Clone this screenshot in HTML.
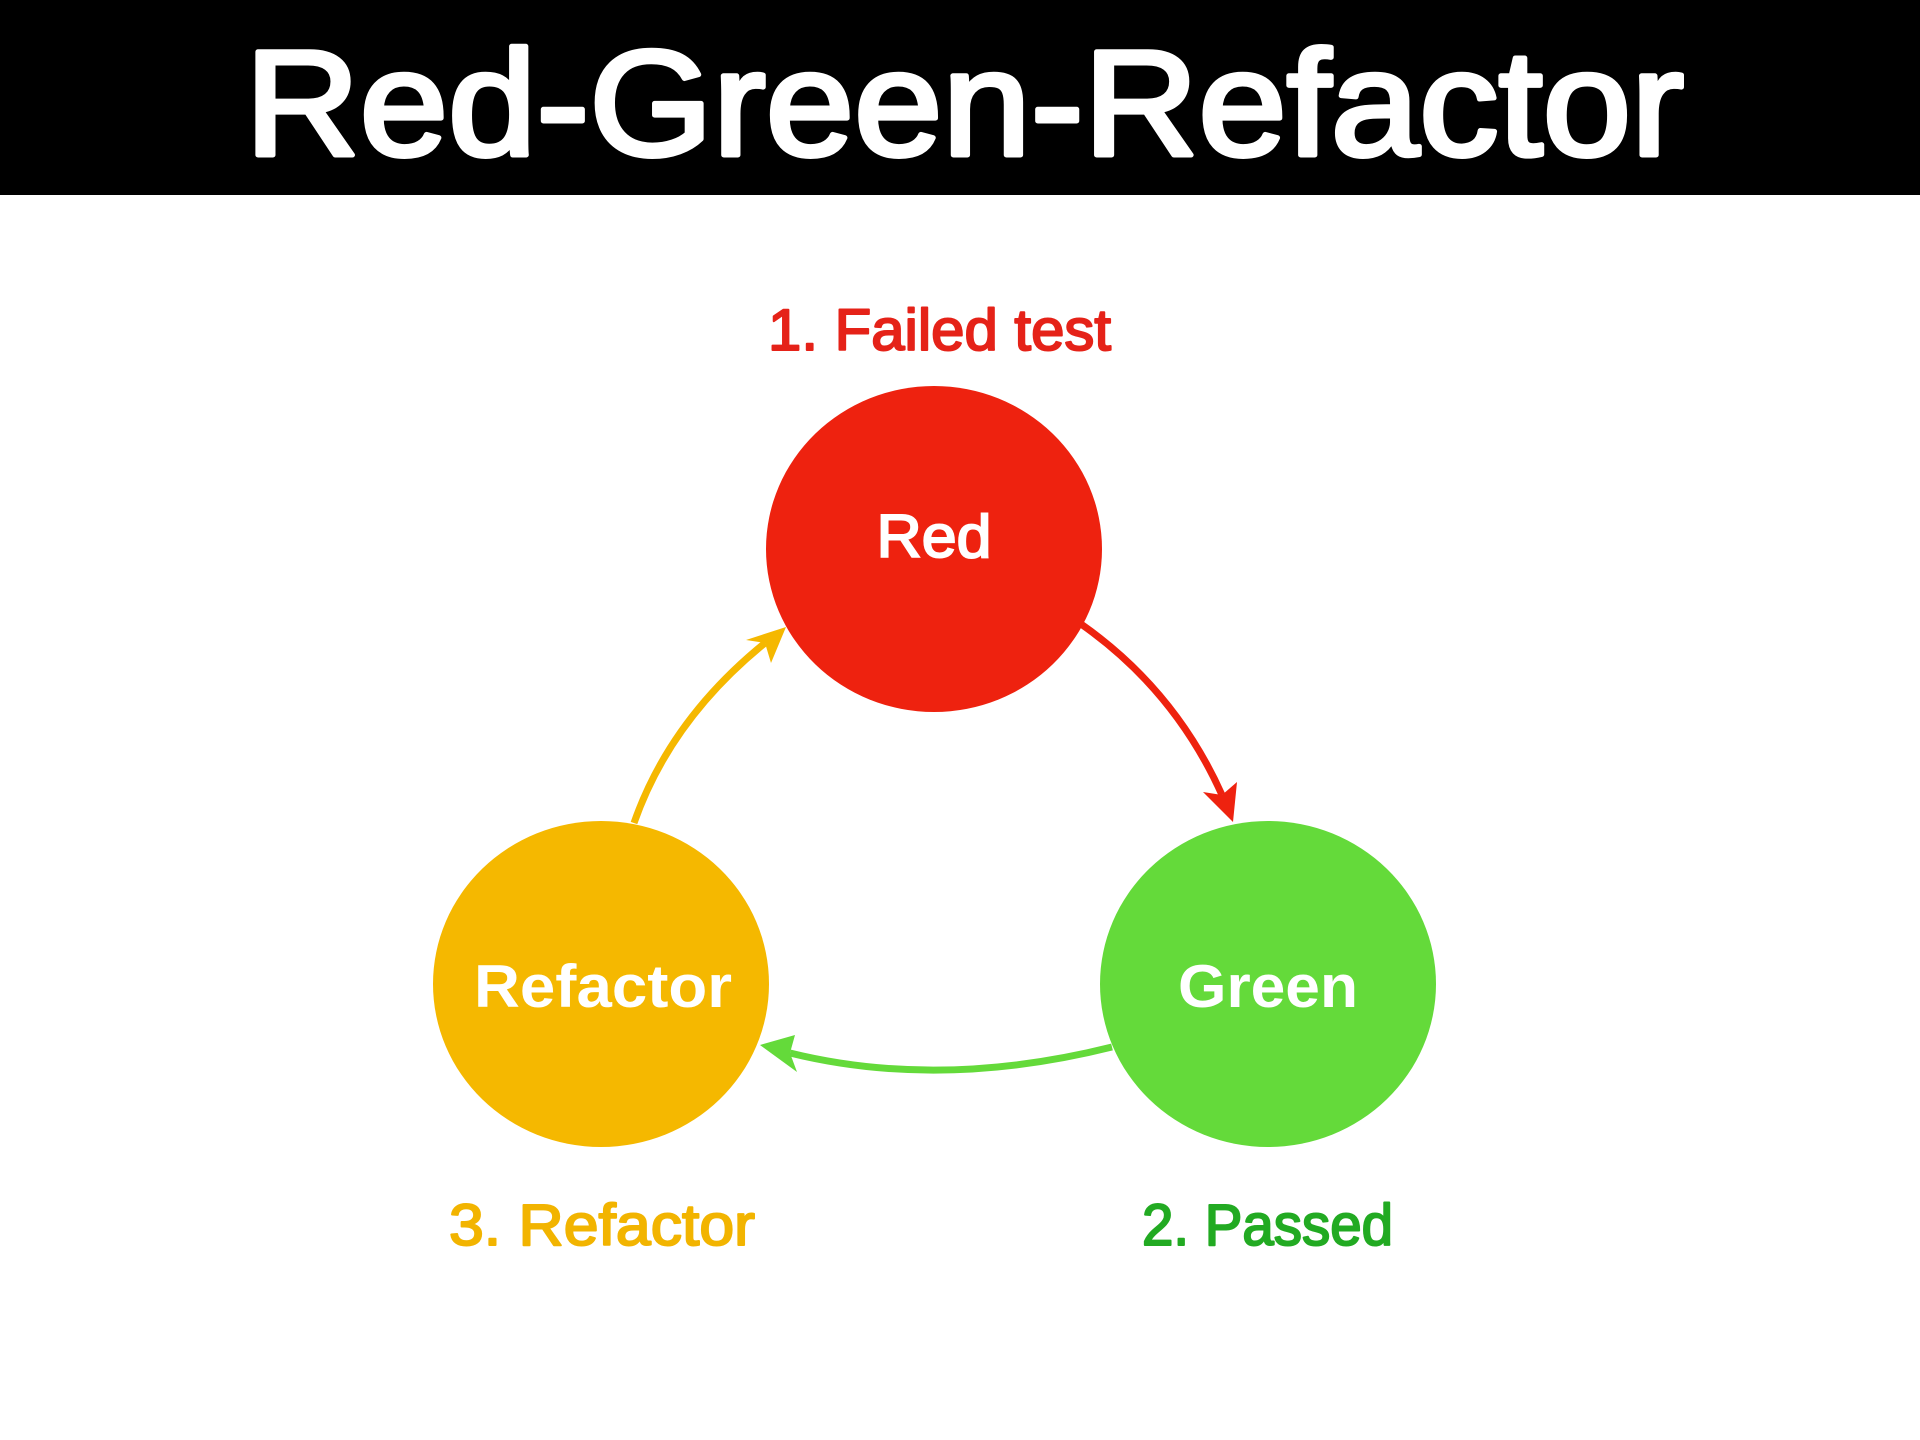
<!DOCTYPE html>
<html><head><meta charset="utf-8"><style>html,body{margin:0;padding:0;background:#fff}svg{display:block}</style></head>
<body>
<svg width="1920" height="1440" viewBox="0 0 1920 1440" xmlns="http://www.w3.org/2000/svg" font-family="'Liberation Sans', sans-serif">
<rect x="0" y="0" width="1920" height="195" fill="#000"/>
<text x="245" y="155" font-size="150" fill="#fff" stroke="#fff" stroke-width="5" stroke-linejoin="round" textLength="1439" lengthAdjust="spacingAndGlyphs">Red-Green-Refactor</text>

<text x="768" y="350" font-size="58" fill="#E52218" stroke="#E52218" stroke-width="2" stroke-linejoin="round" textLength="343" lengthAdjust="spacingAndGlyphs">1. Failed test</text>
<text x="449" y="1245" font-size="58" fill="#F2B400" stroke="#F2B400" stroke-width="2" stroke-linejoin="round" textLength="306" lengthAdjust="spacingAndGlyphs">3. Refactor</text>
<text x="1142" y="1245" font-size="58" fill="#22AA22" stroke="#22AA22" stroke-width="2" stroke-linejoin="round" textLength="251" lengthAdjust="spacingAndGlyphs">2. Passed</text>

<ellipse cx="934" cy="549" rx="168" ry="163" fill="#EE220F"/>
<ellipse cx="1268" cy="984" rx="168" ry="163" fill="#64DA3A"/>
<ellipse cx="601" cy="984" rx="168" ry="163" fill="#F5B800"/>

<text x="934" y="557" font-size="60" fill="#fff" stroke="#fff" stroke-width="2" text-anchor="middle" textLength="115" lengthAdjust="spacingAndGlyphs">Red</text>
<text x="1268" y="1007" font-size="60" fill="#fff" text-anchor="middle" font-weight="bold" textLength="180" lengthAdjust="spacingAndGlyphs">Green</text>
<text x="603" y="1007" font-size="60" fill="#fff" text-anchor="middle" font-weight="bold" textLength="258" lengthAdjust="spacingAndGlyphs">Refactor</text>

<path d="M1081,624 Q1175,690 1222,795" fill="none" stroke="#EE220F" stroke-width="7"/>
<polygon points="1233,822 1203,792 1222,795 1237,782" fill="#EE220F"/>

<path d="M1112,1047 Q940,1090 790,1053" fill="none" stroke="#64DA3A" stroke-width="7"/>
<polygon points="760,1045 795,1035 790,1053 797,1072" fill="#64DA3A"/>

<path d="M634,823 Q670,720 765,643" fill="none" stroke="#F5B800" stroke-width="7"/>
<polygon points="786,627 771,663 765,643 746,640" fill="#F5B800"/>
</svg>
</body></html>
